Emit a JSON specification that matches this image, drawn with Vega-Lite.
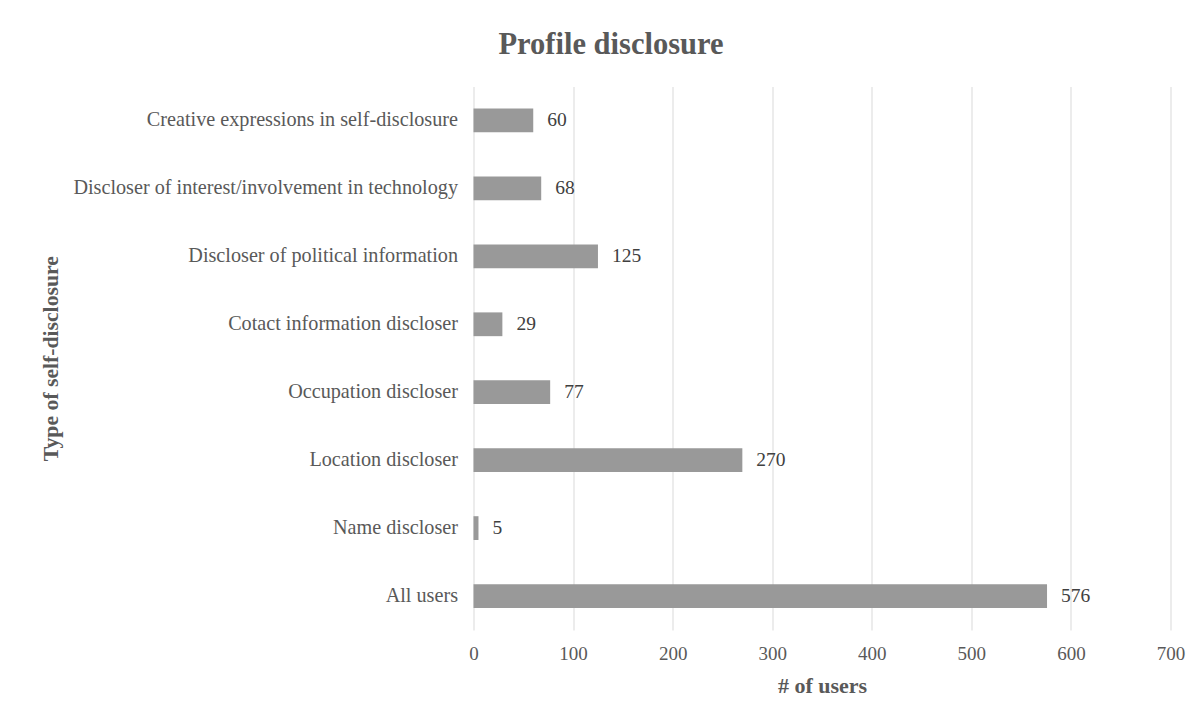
{
  "$schema": "https://vega.github.io/schema/vega-lite/v6.json",
  "autosize": "none",
  "width": 697,
  "height": 543.5,
  "padding": {"left": 473.5, "top": 86.5, "right": 32.5, "bottom": 89},
  "background": "white",
  "config": {
    "view": {"stroke": null},
    "font": "Liberation Serif"
  },
  "title": {
    "text": "Profile disclosure",
    "font": "Liberation Serif",
    "fontSize": 30.5,
    "fontWeight": "bold",
    "color": "#595959",
    "anchor": "middle",
    "frame": "group",
    "baseline": "alphabetic",
    "offset": 2,
    "dx": -211
  },
  "data": {
    "values": [
      {"type": "Creative expressions in self-disclosure", "users": 60},
      {"type": "Discloser of interest/involvement in technology", "users": 68},
      {"type": "Discloser of political information", "users": 125},
      {"type": "Cotact information discloser ", "users": 29},
      {"type": "Occupation discloser", "users": 77},
      {"type": "Location discloser", "users": 270},
      {"type": "Name discloser", "users": 5},
      {"type": "All users", "users": 576}
    ]
  },
  "encoding": {
    "y": {
      "field": "type",
      "type": "nominal",
      "sort": null,
      "scale": {"paddingInner": 0.65, "paddingOuter": 0.325},
      "axis": {
        "title": "Type of self-disclosure",
        "titleFont": "Liberation Serif",
        "titleFontSize": 21.7,
        "titleFontWeight": "bold",
        "titleColor": "#595959",
        "titleAngle": 270,
        "titleX": -423.5,
        "titleY": 271.75,
        "titleAlign": "center",
        "titleBaseline": "middle",
        "labelFont": "Liberation Serif",
        "labelFontSize": 20.2,
        "labelColor": "#595959",
        "labelPadding": 16,
        "labelLimit": 600,
        "ticks": false,
        "domain": false,
        "grid": false
      }
    },
    "x": {
      "field": "users",
      "type": "quantitative",
      "scale": {"domain": [0, 700], "nice": false},
      "axis": {
        "title": "# of users",
        "titleFont": "Liberation Serif",
        "titleFontSize": 22,
        "titleFontWeight": "bold",
        "titleColor": "#595959",
        "titleY": 62,
        "titleBaseline": "alphabetic",
        "values": [0, 100, 200, 300, 400, 500, 600, 700],
        "labelFont": "Liberation Serif",
        "labelFontSize": 19,
        "labelColor": "#595959",
        "labelPadding": 14,
        "labelFlush": false,
        "ticks": false,
        "domain": false,
        "grid": true,
        "gridColor": "#d9d9d9",
        "gridWidth": 1
      }
    }
  },
  "layer": [
    {"mark": {"type": "bar", "color": "#999999"}},
    {
      "mark": {
        "type": "text",
        "align": "left",
        "baseline": "middle",
        "dx": 14,
        "font": "Liberation Serif",
        "fontSize": 19.5,
        "color": "#404040"
      },
      "encoding": {"text": {"field": "users", "type": "quantitative"}}
    }
  ]
}
